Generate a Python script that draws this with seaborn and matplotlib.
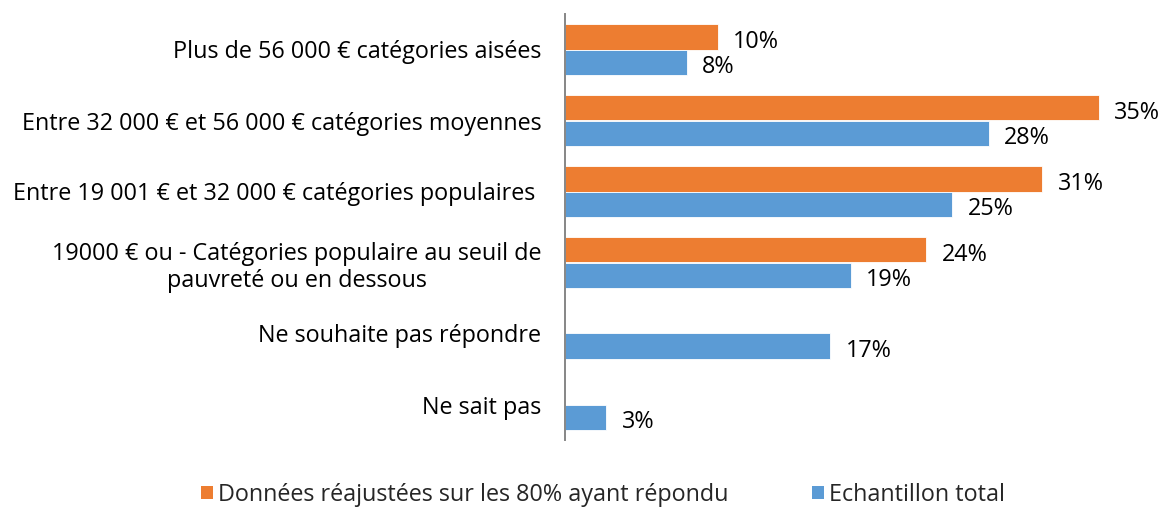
import numpy as np
import pandas as pd
import matplotlib
matplotlib.use("Agg")
import matplotlib.pyplot as plt
import seaborn as sns
from matplotlib.patches import Patch

categories = [
    "Plus de 56 000 € catégories aisées",
    "Entre 32 000 € et 56 000 € catégories moyennes",
    "Entre 19 001 € et 32 000 € catégories populaires ",
    "19000 € ou - Catégories populaire au seuil de\npauvreté ou en dessous",
    "Ne souhaite pas répondre",
    "Ne sait pas",
]
series = ["Données réajustées sur les 80% ayant répondu", "Echantillon total"]
reajuste = [10.0, 35.0, 31.3, 23.7, np.nan, np.nan]
total = [8.0, 27.8, 25.4, 18.75, 17.4, 2.7]
colors = ["#ED7D31", "#5B9BD5"]

df = pd.DataFrame({
    "categorie": categories * 2,
    "serie": [series[0]] * len(categories) + [series[1]] * len(categories),
    "valeur": reajuste + total,
})

sns.set_style("white")
plt.rcParams["font.family"] = ["Open Sans", "DejaVu Sans"]
fs = 16.8

fig = plt.figure(figsize=(11.64, 5.07), dpi=100)
ax = fig.add_axes([565 / 1164, 67 / 507, 579.5 / 1164, 426 / 507])

sns.barplot(
    data=df,
    y="categorie",
    x="valeur",
    hue="serie",
    order=categories,
    hue_order=series,
    orient="h",
    palette=colors,
    saturation=1,
    width=0.72,
    edgecolor="white",
    linewidth=0.6,
    legend=False,
    ax=ax,
)

# étiquettes de données à droite des barres
for cont in ax.containers:
    anns = ax.bar_label(
        cont,
        fmt=lambda v: "" if np.isnan(v) else f"{v:.0f}%",
        padding=11,
        fontsize=fs,
        color="black",
    )
    for a in anns:
        a.xyann = (11, -3.5)

ax.set_xlim(0, 38)
ax.set_xlabel("")
ax.set_ylabel("")
ax.set_xticks([])
ax.tick_params(axis="y", length=0, pad=17, labelsize=fs, labelcolor="black")
for t in ax.get_yticklabels():
    t.set_multialignment("center")

for s in ["top", "right", "bottom"]:
    ax.spines[s].set_visible(False)
ax.spines["left"].set_color("#868686")
ax.spines["left"].set_linewidth(1.4)

handles = [Patch(facecolor=c, edgecolor="none", label=l) for c, l in zip(colors, series)]
fig.legend(
    handles=handles,
    loc="center",
    bbox_to_anchor=(0.518, 12 / 507),
    ncol=2,
    frameon=False,
    borderaxespad=0,
    handlelength=0.5,
    handleheight=0.5,
    handletextpad=0.2,
    columnspacing=3.6,
    fontsize=fs,
)

fig.savefig("out.png", dpi=100)
